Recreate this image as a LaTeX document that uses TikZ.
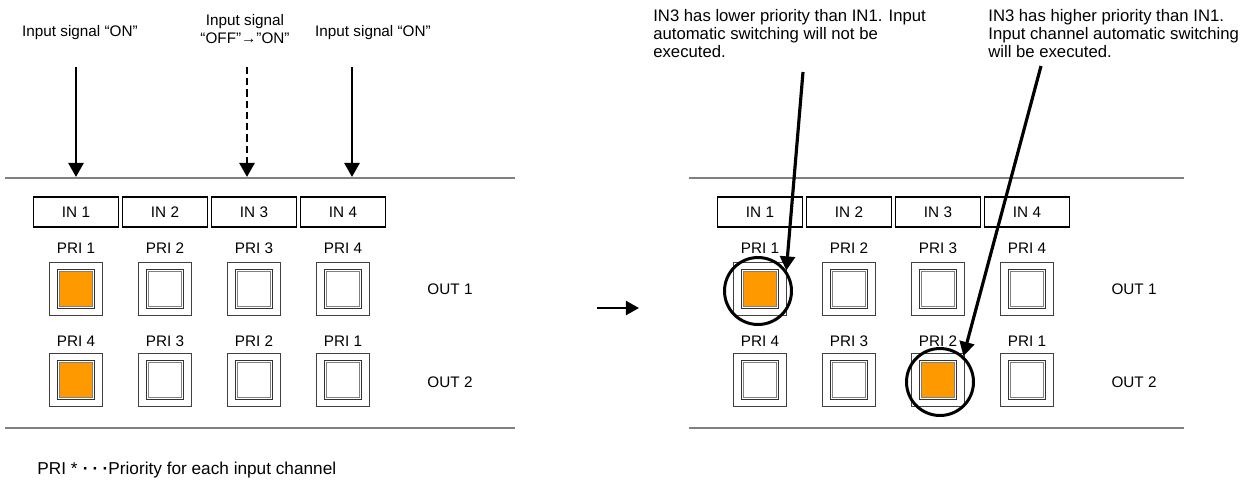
\documentclass[tikz,border=0pt]{standalone}
\usepackage{fontspec}
\setmainfont{Liberation Sans}
\usetikzlibrary{arrows.meta}
\definecolor{litorange}{HTML}{FF9900}
\definecolor{rulegray}{HTML}{808080}

\tikzset{
  txt/.style={font=\fontsize{8.7}{10.5}\selectfont, inner sep=0pt},
  note/.style={font=\fontsize{9.5}{10.3}\selectfont, inner sep=0pt, align=left, anchor=north west},
  rule/.style={draw=rulegray, line width=0.9pt},
  inbox/.style={draw, line width=0.8pt, minimum width=1.7cm, minimum height=0.6cm, inner sep=0pt, txt},
  btnframe/.style={draw=black!75, line width=1pt, minimum size=1.06cm, inner sep=0pt},
  btnface/.style={draw=black!80, fill=white, line width=0.8pt,
    minimum width=0.74cm, minimum height=0.78cm, inner sep=0pt},
  btnrim/.style={draw=black!50, line width=0.5pt, minimum width=0.67cm, minimum height=0.71cm, inner sep=0pt},
  pick/.style={circle, draw, line width=1.7pt, minimum size=1.34cm, inner sep=0pt},
  sig/.style={-{Triangle[length=8pt, width=8.5pt]}, line width=1.6pt},
}

\begin{document}
\begin{tikzpicture}[x=0.02cm, y=-0.02cm]
\useasboundingbox (0,0) rectangle (1254,485);

% Both panels, the right one shifted by 684
\foreach \p/\o/\e in {l/0/515, r/684/1184}{
    \draw[rule] (\o+5,178) -- (\e,178);
    \draw[rule] (\o+5,428) -- (\e,428);
    \foreach \x/\n in {76/1, 165/2, 254/3, 343/4}{
        \pgfmathtruncatemacro{\m}{5-\n}
        \node[inbox] (\p in\n) at (\o+\x,212) {IN \n};
        % OUT 1 row
        \node[txt] (\p pria\n) at (\o+\x,248) {PRI \n};
        \node[btnframe] (\p a\n) at (\o+\x,289) {};
        \node[btnface] at (\p a\n) {};
        \node[btnrim] at (\p a\n) {};
        % OUT 2 row
        \node[txt] (\p prib\n) at (\o+\x,341) {PRI \m};
        \node[btnframe] (\p b\n) at (\o+\x,380) {};
        \node[btnface] at (\p b\n) {};
        \node[btnrim] at (\p b\n) {};
    }
    \node[txt] (\p out1) at (\o+450,289) {OUT 1};
    \node[txt] (\p out2) at (\o+450,382) {OUT 2};
}

% Lit buttons
\foreach \b in {la1, lb1, ra1, rb3}{
    \node[btnrim, fill=litorange] at (\b) {};
}

% Input signals (left)
\node[txt] (sig1) at (80,33) {Input signal “ON”};
\node[txt, align=center] (sig3) at (245,29) {Input signal\\“OFF”→”ON”};
\node[txt] (sig4) at (373,33) {Input signal “ON”};
\coordinate (s1) at (76,67);  \coordinate (e1) at (76,177);
\coordinate (s3) at (247,67); \coordinate (e3) at (247,177);
\coordinate (s4) at (352,67); \coordinate (e4) at (352,177);
\draw[sig] (s1) -- (e1);
\draw[sig, dash pattern=on 4pt off 2.4pt] (s3) -- (e3);
\draw[sig] (s4) -- (e4);

% Transition
\coordinate (ts) at (597,308); \coordinate (te) at (639,308);
\draw[-{Triangle[length=7.5pt, width=8pt]}, line width=1.4pt] (ts) -- (te);

% Results (right)
\node[pick] (rc1) at (758,291) {};
\node[pick] (rc2) at (940,382) {};
\node[note] (lower) at (653,9) {IN3 has lower priority than IN1. Input\\automatic switching will not be\\executed.};
\node[note] (higher) at (988,9) {IN3 has higher priority than IN1.\\Input channel automatic switching\\will be executed.};
\coordinate (n1) at (803,72);
\coordinate (n2) at (1041,66);
\draw[sig, line width=1.8pt] (n1) -- (rc1.36);
\draw[sig, line width=1.8pt] (n2) -- (rc2.48);

% Legend
\node[note, anchor=west, font=\fontsize{9.8}{11}\selectfont] (legend) at (37,470)
    {PRI *\hspace{3pt}{\bfseries ·\hspace{2.4pt}·\hspace{2.4pt}·}Priority for each input channel};

\end{tikzpicture}
\end{document}
